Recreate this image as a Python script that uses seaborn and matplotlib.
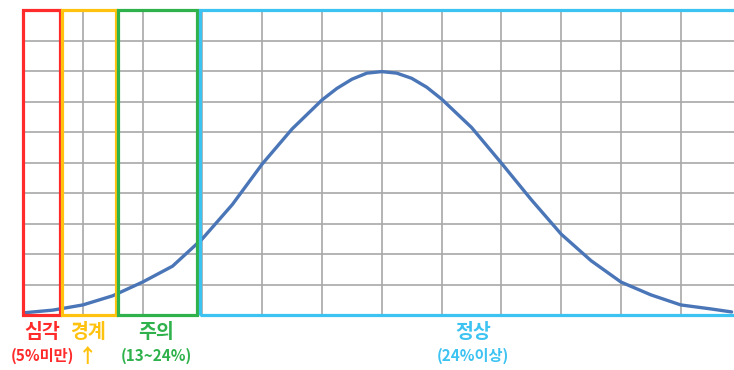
import matplotlib
matplotlib.use("Agg")
import matplotlib.pyplot as plt
import seaborn as sns
import pandas as pd
from matplotlib.patches import Rectangle

# ---- data ----
curve_x = [0, 0.5, 1, 1.5, 2, 2.5, 3, 3.5, 4, 4.5, 5, 5.25, 5.5, 5.75, 6,
           6.25, 6.5, 6.75, 7, 7.5, 8, 8.5, 9, 9.5, 10, 10.5, 11, 11.5, 11.85]
curve_y = [0.07, 0.16, 0.33, 0.63, 1.08, 1.6, 2.5, 3.62, 4.95, 6.1, 7.05, 7.43,
           7.73, 7.93, 7.98, 7.93, 7.76, 7.47, 7.08, 6.15, 4.98, 3.78, 2.65, 1.78,
           1.08, 0.66, 0.33, 0.2, 0.1]

zone_names = ["심각", "경계", "주의", "정상"]
zone_notes = ["(5%미만)", "↑", "(13~24%)", "(24%이상)"]
zone_start = [0.0, 0.65, 1.59, 2.96]
zone_end = [0.62, 1.55, 2.91, 12.6]
zone_colors = ["#ff2b2b", "#ffc20e", "#2fb24c", "#3cc3f2"]

df = pd.DataFrame({"x": curve_x, "y": curve_y})

sns.set_style("white")
plt.rcParams["font.family"] = ["Noto Sans CJK KR", "DejaVu Sans"]

W, H = 734, 370
fig = plt.figure(figsize=(W / 100, H / 100), dpi=100)
ax = fig.add_axes([23 / W, 55 / H, 711 / W, 305 / H])

ax.set_xlim(0, 711 / 59.8)
ax.set_ylim(0, 10)
ax.set_xticks(range(0, 12))
ax.set_yticks(range(0, 11))
ax.grid(True, color="#a8a8a8", linewidth=1.2)
ax.tick_params(left=False, bottom=False, labelleft=False, labelbottom=False)
for s in ax.spines.values():
    s.set_visible(False)
ax.set_axisbelow(True)

sns.lineplot(data=df, x="x", y="y", ax=ax, color="#4a76b8", linewidth=2.4, zorder=3)
ax.set_xlabel("")
ax.set_ylabel("")

for x0, x1, c in zip(zone_start, zone_end, zone_colors):
    ax.add_patch(Rectangle((x0, 0), x1 - x0, 10, fill=False, edgecolor=c,
                           linewidth=2.3, clip_on=False, zorder=4))

label_px = [42, 88, 156, 473]
for name, note, c, px in zip(zone_names, zone_notes, zone_colors, label_px):
    fig.text(px / W, 1 - 332 / H, name, color=c, fontsize=14, fontweight="bold",
             ha="center", va="center")
    if note == "↑":
        fig.text(px / W, 1 - 357 / H, note, color=c, fontsize=14, fontweight="bold",
                 ha="center", va="center")
    else:
        fig.text(px / W, 1 - 356 / H, note, color=c, fontsize=11, fontweight="bold",
                 ha="center", va="center")

fig.savefig("out.png", dpi=100)
